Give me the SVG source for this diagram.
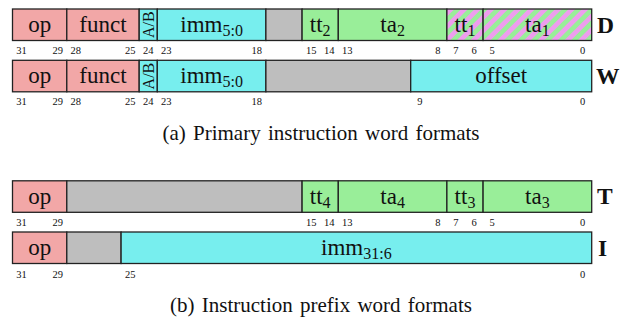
<svg xmlns="http://www.w3.org/2000/svg" width="629" height="322" viewBox="0 0 629 322" font-family="'Liberation Serif', 'Times New Roman', 'DejaVu Serif', serif">
<defs>
<pattern id="hatch" patternUnits="userSpaceOnUse" width="9.5" height="9.5" patternTransform="rotate(45)">
<rect x="0" y="0" width="9.5" height="9.5" fill="#99EE99"/>
<rect x="0" y="0" width="4.75" height="9.5" fill="#EE9DEE"/>
</pattern>
<style>
.f{stroke:#222;stroke-width:1.3}
.red{fill:#F2A7A7}.cy{fill:#77EEEE}.gr{fill:#BEBEBE}.gn{fill:#99EE99}.ht{fill:url(#hatch)}
text{font-family:'Liberation Serif','Times New Roman','DejaVu Serif',serif;fill:#111}
.lb{font-size:23px;text-anchor:middle}
.sub{font-size:16px}
.ab{font-size:16px;text-anchor:middle}
.n{font-size:10.5px;text-anchor:middle}
.rl{font-size:23.5px;font-weight:bold}
.cap{font-size:21px;text-anchor:middle;word-spacing:2px}
</style>
</defs>

<g id="rowD">
<rect class="f red" x="12.5" y="9" width="54.3" height="31.5"/>
<rect class="f red" x="66.8" y="9" width="72.4" height="31.5"/>
<rect class="f cy" x="139.2" y="9" width="18.1" height="31.5"/>
<rect class="f cy" x="157.3" y="9" width="108.6" height="31.5"/>
<rect class="f gr" x="265.9" y="9" width="36.2" height="31.5"/>
<rect class="f gn" x="302.1" y="9" width="36.2" height="31.5"/>
<rect class="f gn" x="338.3" y="9" width="108.6" height="31.5"/>
<rect class="f ht" x="446.9" y="9" width="36.2" height="31.5"/>
<rect class="f ht" x="483.1" y="9" width="108.6" height="31.5"/>
<text class="lb" x="39.65" y="32">op</text>
<text class="lb" x="103" y="32">funct</text>
<text class="ab" transform="translate(154,24.75) rotate(-90)">A/B</text>
<text class="lb" x="211.6" y="32">imm<tspan class="sub" dy="4">5:0</tspan></text>
<text class="lb" x="320.2" y="32">tt<tspan class="sub" dy="4">2</tspan></text>
<text class="lb" x="392.6" y="32">ta<tspan class="sub" dy="4">2</tspan></text>
<text class="lb" x="465" y="32">tt<tspan class="sub" dy="4">1</tspan></text>
<text class="lb" x="537.4" y="32">ta<tspan class="sub" dy="4">1</tspan></text>
<text class="rl" x="597" y="32.5">D</text>
<text class="n" y="54"><tspan x="21.55">31</tspan><tspan x="57.75">29</tspan><tspan x="75.85">28</tspan><tspan x="130.15">25</tspan><tspan x="148.25">24</tspan><tspan x="166.35">23</tspan><tspan x="256.85">18</tspan><tspan x="311.15">15</tspan><tspan x="329.25">14</tspan><tspan x="347.35">13</tspan><tspan x="437.85">8</tspan><tspan x="455.95">7</tspan><tspan x="474.05">6</tspan><tspan x="492.15">5</tspan><tspan x="582.65">0</tspan></text>
</g>

<g id="rowW">
<rect class="f red" x="12.5" y="60.3" width="54.3" height="31.5"/>
<rect class="f red" x="66.8" y="60.3" width="72.4" height="31.5"/>
<rect class="f cy" x="139.2" y="60.3" width="18.1" height="31.5"/>
<rect class="f cy" x="157.3" y="60.3" width="108.6" height="31.5"/>
<rect class="f gr" x="265.9" y="60.3" width="144.8" height="31.5"/>
<rect class="f cy" x="410.7" y="60.3" width="181" height="31.5"/>
<text class="lb" x="39.65" y="83.3">op</text>
<text class="lb" x="103" y="83.3">funct</text>
<text class="ab" transform="translate(154,76.05) rotate(-90)">A/B</text>
<text class="lb" x="211.6" y="83.3">imm<tspan class="sub" dy="4">5:0</tspan></text>
<text class="lb" x="501.2" y="83.3">offset</text>
<text class="rl" x="596" y="83.8">W</text>
<text class="n" y="104.5"><tspan x="21.55">31</tspan><tspan x="57.75">29</tspan><tspan x="75.85">28</tspan><tspan x="130.15">25</tspan><tspan x="148.25">24</tspan><tspan x="166.35">23</tspan><tspan x="256.85">18</tspan><tspan x="419.75">9</tspan><tspan x="582.65">0</tspan></text>
</g>

<text class="cap" x="321" y="140">(a) Primary instruction word formats</text>

<g id="rowT">
<rect class="f red" x="12.5" y="180.8" width="54.3" height="31.5"/>
<rect class="f gr" x="66.8" y="180.8" width="235.3" height="31.5"/>
<rect class="f gn" x="302.1" y="180.8" width="36.2" height="31.5"/>
<rect class="f gn" x="338.3" y="180.8" width="108.6" height="31.5"/>
<rect class="f gn" x="446.9" y="180.8" width="36.2" height="31.5"/>
<rect class="f gn" x="483.1" y="180.8" width="108.6" height="31.5"/>
<text class="lb" x="39.65" y="203.8">op</text>
<text class="lb" x="320.2" y="203.8">tt<tspan class="sub" dy="4">4</tspan></text>
<text class="lb" x="392.6" y="203.8">ta<tspan class="sub" dy="4">4</tspan></text>
<text class="lb" x="465" y="203.8">tt<tspan class="sub" dy="4">3</tspan></text>
<text class="lb" x="537.4" y="203.8">ta<tspan class="sub" dy="4">3</tspan></text>
<text class="rl" x="597" y="204.3">T</text>
<text class="n" y="225.7"><tspan x="21.55">31</tspan><tspan x="57.75">29</tspan><tspan x="311.15">15</tspan><tspan x="329.25">14</tspan><tspan x="347.35">13</tspan><tspan x="437.85">8</tspan><tspan x="455.95">7</tspan><tspan x="474.05">6</tspan><tspan x="492.15">5</tspan><tspan x="582.65">0</tspan></text>
</g>

<g id="rowI">
<rect class="f red" x="12.5" y="232" width="54.3" height="31.5"/>
<rect class="f gr" x="66.8" y="232" width="54.3" height="31.5"/>
<rect class="f cy" x="121.1" y="232" width="470.6" height="31.5"/>
<text class="lb" x="39.65" y="255">op</text>
<text class="lb" x="356.4" y="255">imm<tspan class="sub" dy="4">31:6</tspan></text>
<text class="rl" x="598" y="255.5">I</text>
<text class="n" y="277.5"><tspan x="21.55">31</tspan><tspan x="57.75">29</tspan><tspan x="130.15">25</tspan><tspan x="582.65">0</tspan></text>
</g>

<text class="cap" x="321" y="312">(b) Instruction prefix word formats</text>
</svg>
